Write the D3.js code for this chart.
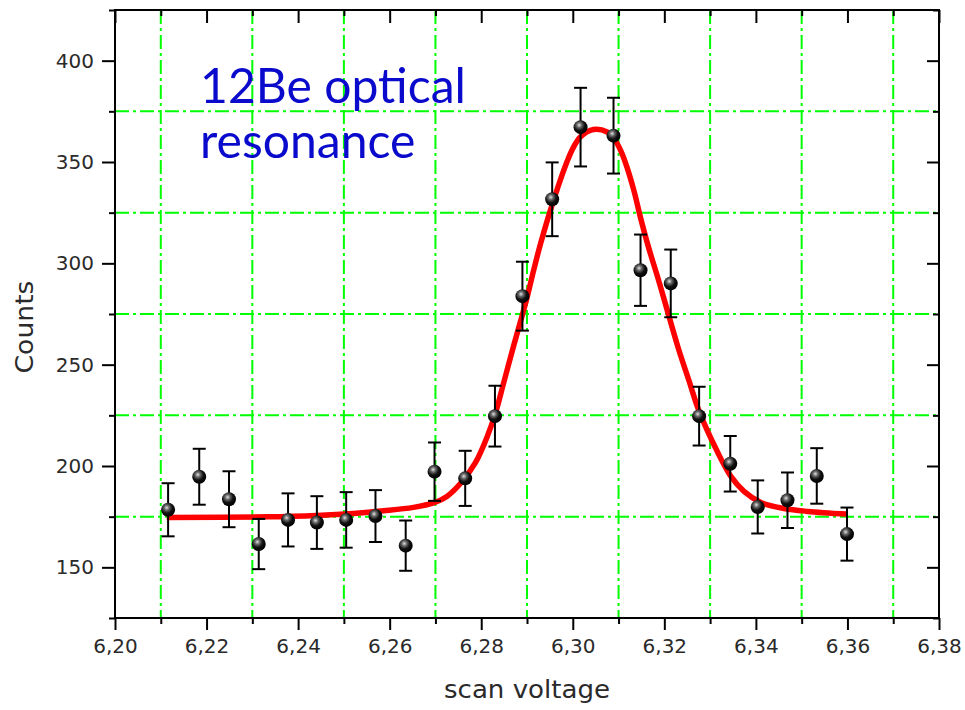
<!DOCTYPE html>
<html>
<head>
<meta charset="utf-8">
<script src="https://cdn.jsdelivr.net/npm/d3@7"></script>
<style>
  body { margin:0; background:#fff; }
  svg { display:block; }
</style>
</head>
<body>
<svg id="chart" width="965" height="710"></svg>
<script>
// measured points (scan voltage, counts, error)
const scanV = [6.2116,6.2184,6.2249,6.2314,6.2378,6.2441,6.2505,6.2569,6.2635,6.2698,6.2765,6.2830,
               6.2890,6.2955,6.3017,6.3089,6.3148,6.3214,6.3276,6.3344,6.3404,6.3469,6.3533,6.3599];
const counts = [178.4,194.7,183.6,161.5,173.4,172.1,173.4,175.3,160.7,197.2,193.9,224.6,
                283.8,331.6,367.2,363.0,296.6,290.1,224.6,201.1,179.8,183.1,195.1,166.4];
const countErr = [13.1,13.8,13.8,12.4,13.1,13.0,13.7,12.8,12.4,14.4,13.6,15.0,
                  17.0,18.2,19.4,18.7,17.6,16.7,14.5,13.7,13.1,13.7,13.7,13.1];

// fit curve
const fitX = [6.2113,6.2332,6.2441,6.2521,6.2587,6.2652,6.2696,6.2725,6.2755,6.2787,6.2814,6.2831,6.2849,
              6.2871,6.2886,6.2900,6.2915,6.2930,6.2955,6.2988,6.3002,6.3017,6.3045,6.3075,6.3090,6.3105,6.3119,
              6.3134,6.3148,6.3166,6.3185,6.3203,6.3230,6.3254,6.3276,6.3316,6.3345,6.3374,6.3411,6.3462,6.3513,6.3599];
const fitY = [174.6,174.9,175.6,176.6,177.9,179.6,181.8,185.0,191.5,201.5,215.0,226.0,241.0,
              259.5,271.5,283.0,297.0,310.0,329.0,350.5,357.5,362.5,366.0,364.8,361.5,355.5,347.0,
              335.5,322.5,307.5,293.5,279.5,258.5,242.0,227.0,207.0,195.0,187.5,182.0,179.0,177.6,176.3];

const xMajorTicks = [6.20,6.22,6.24,6.26,6.28,6.30,6.32,6.34,6.36,6.38];
const xMinorTicks = [6.21,6.23,6.25,6.27,6.29,6.31,6.33,6.35,6.37];
const yMajorTicks = [150,200,250,300,350,400];
const yMinorTicks = [125,175,225,275,325,375,425];
const xGrid = [6.21,6.23,6.25,6.27,6.29,6.31,6.33,6.35,6.37];
const yGrid = [175,225,275,325,375];

const pLeft = 115, pRight = 939, pTop = 10, pBottom = 618;

let svg = d3.select("#chart");

let x = d3.scaleLinear().domain([6.20,6.38]).range([pLeft,pRight]);
let y = d3.scaleLinear().domain([125,425]).range([pBottom,pTop]);

let fmt = d3.formatLocale({decimal:",",thousands:".",grouping:[3],currency:["",""]}).format(".2f");

// grid
let grid = svg.append("g").attr("stroke","#00ff00").attr("stroke-width",2).attr("stroke-dasharray","14,4,3,4");
grid.selectAll(".vg").data(xGrid).enter().append("line")
    .attr("x1",d => x(d)).attr("x2",d => x(d)).attr("y1",pTop).attr("y2",pBottom);
grid.selectAll(".hg").data(yGrid).enter().append("line")
    .attr("y1",d => y(d)).attr("y2",d => y(d)).attr("x1",pLeft).attr("x2",pRight);

// axes
function styleAxis(g) {
  g.select(".domain").remove();
  g.selectAll(".tick line").attr("stroke","#000").attr("stroke-width",2);
  g.selectAll(".tick text").attr("fill","#2a2a2a").style("font-family","DejaVu Sans, sans-serif").style("font-size","20px");
}
svg.append("g").attr("transform","translate(0,"+pBottom+")")
   .call(d3.axisBottom(x).tickValues(xMajorTicks).tickSize(12).tickPadding(9).tickFormat(fmt)).call(styleAxis);
svg.append("g").attr("transform","translate(0,"+pBottom+")")
   .call(d3.axisBottom(x).tickValues(xMinorTicks).tickSize(6).tickFormat("")).call(styleAxis);
svg.append("g").attr("transform","translate(0,"+pTop+")")
   .call(d3.axisBottom(x).tickValues(xMajorTicks).tickSize(13).tickFormat("")).call(styleAxis);
svg.append("g").attr("transform","translate(0,"+pTop+")")
   .call(d3.axisBottom(x).tickValues(xMinorTicks).tickSize(6).tickFormat("")).call(styleAxis);
svg.append("g").attr("transform","translate("+pLeft+",0)")
   .call(d3.axisLeft(y).tickValues(yMajorTicks).tickSize(13).tickPadding(8).tickFormat(d3.format("d"))).call(styleAxis);
svg.append("g").attr("transform","translate("+pLeft+",0)")
   .call(d3.axisLeft(y).tickValues(yMinorTicks).tickSize(6).tickFormat("")).call(styleAxis);
svg.append("g").attr("transform","translate("+pRight+",0)")
   .call(d3.axisLeft(y).tickValues(yMajorTicks).tickSize(12).tickFormat("")).call(styleAxis);
svg.append("g").attr("transform","translate("+pRight+",0)")
   .call(d3.axisLeft(y).tickValues(yMinorTicks).tickSize(6).tickFormat("")).call(styleAxis);

svg.append("rect").attr("x",pLeft).attr("y",pTop).attr("width",pRight-pLeft).attr("height",pBottom-pTop)
   .attr("fill","none").attr("stroke","#000").attr("stroke-width",2);

// axis titles
svg.append("text").attr("x",(pLeft+pRight)/2).attr("y",698).attr("text-anchor","middle")
   .attr("fill","#2a2a2a").style("font-family","DejaVu Sans, sans-serif").style("font-size","24px")
   .attr("textLength",166).attr("lengthAdjust","spacingAndGlyphs").text("scan voltage");
svg.append("text").attr("transform","translate(33,327) rotate(-90)").attr("text-anchor","middle")
   .attr("fill","#2a2a2a").style("font-family","DejaVu Sans, sans-serif").style("font-size","25px")
   .attr("textLength",93).attr("lengthAdjust","spacingAndGlyphs").text("Counts");

// fit curve
let lineFn = d3.line().x((d,i) => x(fitX[i])).y(d => y(d)).curve(d3.curveCatmullRom.alpha(0.5));
svg.append("path").attr("d",lineFn(fitY)).attr("fill","none").attr("stroke","#ff0000").attr("stroke-width",5.5);

// error bars
let eb = svg.append("g").attr("stroke","#000").attr("stroke-width",2);
scanV.forEach(function(v,i){
  let cx = x(v), y1 = y(counts[i]+countErr[i]), y2 = y(counts[i]-countErr[i]);
  eb.append("line").attr("x1",cx).attr("x2",cx).attr("y1",y1).attr("y2",y2);
  eb.append("line").attr("x1",cx-6.5).attr("x2",cx+6.5).attr("y1",y1).attr("y2",y1);
  eb.append("line").attr("x1",cx-6.5).attr("x2",cx+6.5).attr("y1",y2).attr("y2",y2);
});

// sphere markers
let grad = svg.append("defs").append("radialGradient").attr("id","ball")
   .attr("cx","40%").attr("cy","35%").attr("r","65%");
grad.append("stop").attr("offset","0%").attr("stop-color","#e0e0e0");
grad.append("stop").attr("offset","28%").attr("stop-color","#666");
grad.append("stop").attr("offset","60%").attr("stop-color","#111");
grad.append("stop").attr("offset","100%").attr("stop-color","#000");
svg.selectAll(".pt").data(counts).enter().append("circle")
   .attr("cx",(d,i) => x(scanV[i])).attr("cy",d => y(d)).attr("r",7).attr("fill","url(#ball)");

// annotation
let ann = svg.append("text").attr("fill","#0a0acc").style("font-family","Lato, sans-serif").style("font-size","44px");
ann.append("tspan").attr("x",200).attr("y",103).text("12Be optical");
ann.append("tspan").attr("x",200).attr("y",158).text("resonance");
let w = ann.select("tspan").node().getComputedTextLength();
ann.style("font-size",(44*266/w)+"px");
</script>
</body>
</html>
